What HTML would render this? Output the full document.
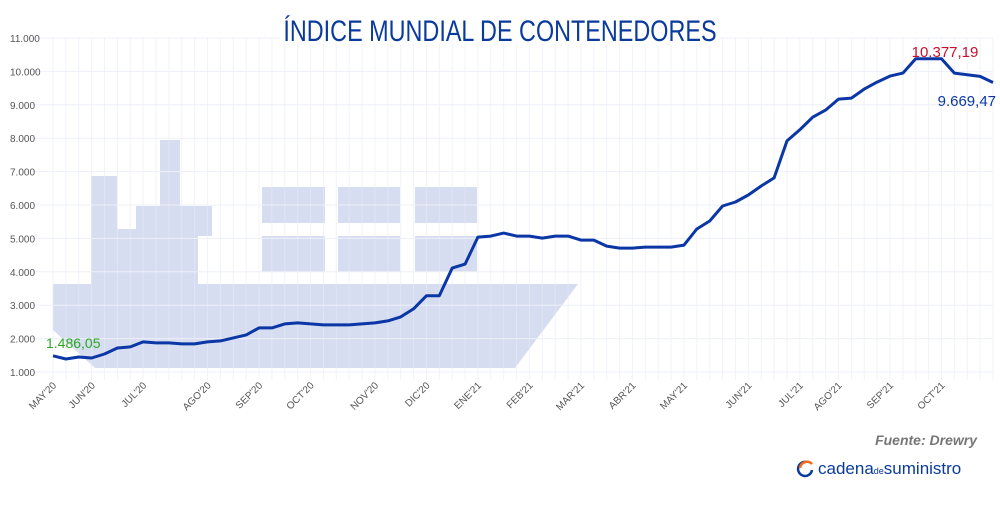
<!DOCTYPE html>
<html><head><meta charset="utf-8"><style>
body{margin:0;background:#fff;width:1000px;height:500px;overflow:hidden;font-family:"Liberation Sans",sans-serif}
</style></head><body>
<svg id="c" width="1000" height="500">
<g id="ship" fill="#d6ddf0">
<polygon points="53,284 578,284 515,368 95,368 53,330"/>
<rect x="91" y="176" width="26" height="110"/>
<rect x="116" y="229" width="21" height="57"/>
<rect x="136" y="206" width="25" height="80"/>
<rect x="160" y="140" width="20" height="146"/>
<rect x="179" y="206" width="33" height="30"/>
<rect x="179" y="235" width="19" height="51"/>
<rect x="262" y="187" width="63" height="36"/><rect x="338" y="187" width="62" height="36"/><rect x="415" y="187" width="62" height="36"/>
<rect x="262" y="236" width="63" height="36"/><rect x="338" y="236" width="62" height="36"/><rect x="415" y="236" width="62" height="36"/>
</g>
<g id="grid"></g>
<rect x="280" y="10" width="440" height="34" fill="#fff"/>
<text x="500" y="41" text-anchor="middle" font-size="30" fill="#0a3a9c" transform="translate(500,0) scale(0.78,1) translate(-500,0)">ÍNDICE MUNDIAL DE CONTENEDORES</text>
<g id="axes"></g>
<path id="line" fill="none" stroke="#0a36a6" stroke-width="3" stroke-linejoin="round"/>
<text x="46" y="348" font-size="14" fill="#2aa822">1.486,05</text>
<text x="945" y="57" font-size="15" fill="#c8102e" text-anchor="middle">10.377,19</text>
<text x="996" y="106" font-size="15" fill="#0a36a6" text-anchor="end">9.669,47</text>
<text x="977" y="445" font-size="14" font-style="italic" font-weight="bold" fill="#777" text-anchor="end">Fuente: Drewry</text>
<g>
<path d="M806 462 a7 7 0 1 0 6 8" fill="none" stroke="#0a3a9c" stroke-width="2.5"/>
<path d="M800 468 a7 7 0 0 1 12 -4" fill="none" stroke="#f26b1d" stroke-width="2.5"/>
<text x="818" y="474" font-size="17" fill="#0a3a9c">cadena<tspan font-size="9">de</tspan>suministro</text>
</g>
</svg>
<script>
const values=[1486,1390,1450,1420,1540,1720,1750,1900,1870,1870,1840,1840,1900,1930,2020,2110,2320,2320,2440,2470,2440,2410,2410,2410,2440,2470,2530,2650,2890,3280,3280,4110,4230,5040,5070,5160,5070,5070,5010,5070,5070,4950,4950,4770,4710,4710,4740,4740,4740,4800,5280,5520,5970,6090,6300,6570,6810,7920,8250,8630,8840,9170,9200,9470,9680,9860,9950,10377,10377,10377,9950,9900,9850,9669];
const yTicks=[1000,2000,3000,4000,5000,6000,7000,8000,9000,10000,11000];
const yLabels=["1.000","2.000","3.000","4.000","5.000","6.000","7.000","8.000","9.000","10.000","11.000"];
const xLabels=["MAY'20","JUN'20","JUL'20","AGO'20","SEP'20","OCT'20","NOV'20","DIC'20","ENE'21","FEB'21","MAR'21","ABR'21","MAY'21","JUN'21","JUL'21","AGO'21","SEP'21","OCT'21"];
const xLabelIdx=[0,3,7,12,16,20,25,29,33,37,41,45,49,54,58,61,65,69];
const ns="http://www.w3.org/2000/svg";
const x0=53,x1=993,yB=372,yT=38;
const X=i=>x0+i*(x1-x0)/(values.length-1);
const Y=v=>yB-(v-1000)/10000*(yB-yT);
const grid=document.getElementById('grid'),axes=document.getElementById('axes');
function mk(tag,attrs,parent){const e=document.createElementNS(ns,tag);for(const k in attrs)e.setAttribute(k,attrs[k]);parent.appendChild(e);return e;}
for(let i=0;i<values.length;i++){
 const l=mk('line',{x1:X(i),x2:X(i),y1:yT,y2:yB+8,stroke:'#e8ebf6','stroke-opacity':0.6},grid);
 
 
}
yTicks.forEach((v,i)=>{
 const l=mk('line',{x1:30,x2:x1,y1:Y(v),y2:Y(v),stroke:'#eef0f8'},grid);
 
 
 const t=mk('text',{x:10,y:Y(v)+4,'font-size':10,fill:'#555'},axes);
 t.textContent=yLabels[i];
 
 
});
xLabels.forEach((s,k)=>{
 const x=X(xLabelIdx[k]);
 const t=mk('text',{x:x+4,y:386,'font-size':10,fill:'#555','text-anchor':'end',transform:`rotate(-45 ${x+4} 386)`},axes);
 t.textContent=s;
 
 
});
document.getElementById('line').setAttribute('d',values.map((v,i)=>(i?'L':'M')+X(i).toFixed(1)+' '+Y(v).toFixed(1)).join(''));
</script>
</body></html>
